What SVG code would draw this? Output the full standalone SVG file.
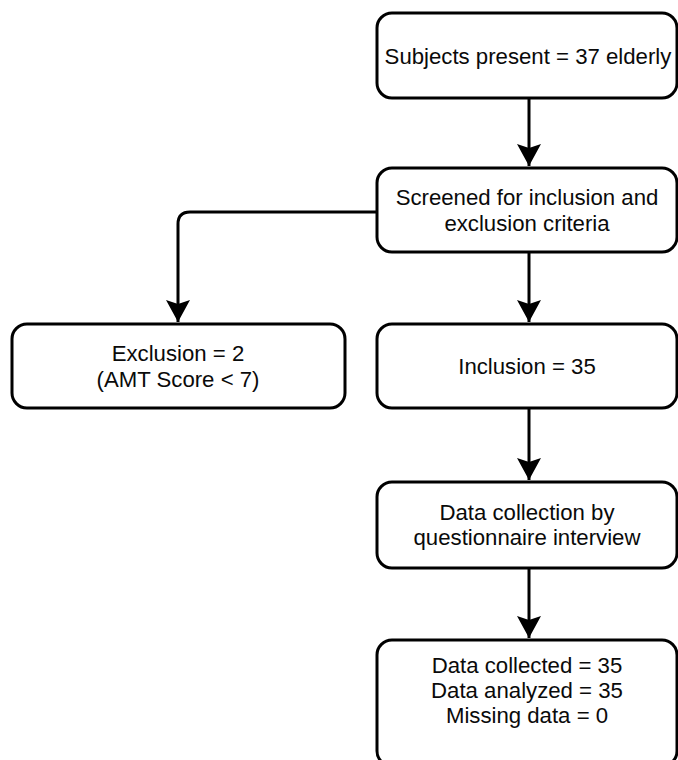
<svg xmlns="http://www.w3.org/2000/svg" width="678" height="760" viewBox="0 0 678 760">
  <style>
    .box { fill: #ffffff; stroke: #000000; stroke-width: 3; }
    .lbl { font-family: "Liberation Sans", Arial, sans-serif; font-size: 22.2px; fill: #0a0a0a; text-anchor: middle; }
    .conn { fill: none; stroke: #000000; stroke-width: 3; }
  </style>
  <defs>
    <marker id="arr" markerUnits="userSpaceOnUse" markerWidth="24" markerHeight="24" viewBox="0 0 24 24" refX="22" refY="12" orient="auto">
      <path d="M0,0 L22,12 L0,24 L4,12 Z" fill="#000000"/>
    </marker>
  </defs>
  <rect width="678" height="760" fill="#ffffff"/>
  <g id="connectors">
    <path class="conn" d="M529,98 L529,166" marker-end="url(#arr)"/>
    <path class="conn" d="M529,252 L529,322" marker-end="url(#arr)"/>
    <path class="conn" d="M377,212 L190,212 Q178,212 178,224 L178,322" marker-end="url(#arr)"/>
    <path class="conn" d="M529,408 L529,480" marker-end="url(#arr)"/>
    <path class="conn" d="M529,568 L529,638" marker-end="url(#arr)"/>
  </g>
  <g id="subjects">
    <rect class="box" x="377" y="13" width="300" height="85" rx="15"/>
    <text class="lbl" x="528" y="64">Subjects present = 37 elderly</text>
  </g>
  <g id="screened">
    <rect class="box" x="377" y="168" width="300" height="84" rx="15"/>
    <text class="lbl" x="527" y="205">Screened for inclusion and</text>
    <text class="lbl" x="527" y="231">exclusion criteria</text>
  </g>
  <g id="exclusion">
    <rect class="box" x="12" y="324" width="333" height="84" rx="15"/>
    <text class="lbl" x="178" y="361">Exclusion = 2</text>
    <text class="lbl" x="178" y="387">(AMT Score &lt; 7)</text>
  </g>
  <g id="inclusion">
    <rect class="box" x="377" y="324" width="300" height="84" rx="15"/>
    <text class="lbl" x="527" y="374">Inclusion = 35</text>
  </g>
  <g id="datacollection">
    <rect class="box" x="377" y="482" width="300" height="86" rx="15"/>
    <text class="lbl" x="527" y="520">Data collection by</text>
    <text class="lbl" x="527" y="545">questionnaire interview</text>
  </g>
  <g id="result">
    <rect class="box" x="377" y="640" width="300" height="126" rx="15"/>
    <text class="lbl" x="527" y="673">Data collected = 35</text>
    <text class="lbl" x="527" y="698">Data analyzed = 35</text>
    <text class="lbl" x="527" y="723">Missing data = 0</text>
  </g>
</svg>
